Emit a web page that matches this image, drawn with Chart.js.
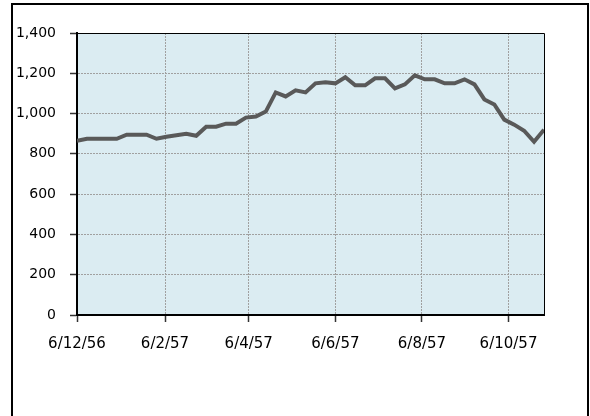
<!DOCTYPE html>
<html lang="en">
<head>
  <meta charset="UTF-8">
  <title>Weekly series</title>
  <style>
    html, body {
      margin: 0;
      padding: 0;
      background: #ffffff;
    }
    .chart-container {
      width: 590px;
      height: 416px;
      position: relative;
    }
  </style>
</head>
<body>
  <div class="chart-container">
    <canvas id="lineChart"></canvas>
  </div>

  <script src="https://cdn.jsdelivr.net/npm/chart.js"></script>
  <script>
    // weekly readings, first one on 6/12/56 (day 0)
    const weeklyValues = [
      865, 875, 875, 875, 875, 895, 895, 895, 875, 885,
      892, 900, 890, 935, 935, 950, 950, 980, 985, 1010,
      1105, 1085, 1115, 1105, 1150, 1155, 1150, 1180, 1140, 1140,
      1175, 1175, 1125, 1145, 1190, 1170, 1170, 1150, 1150, 1170,
      1145, 1070, 1045, 970, 945, 915, 860, 920
    ];
    // x axis ticks: day offsets from 6/12/56 and their labels
    const tickDays = [0, 62, 121, 182, 243, 304];
    const tickLabels = ['6/12/56', '6/2/57', '6/4/57', '6/6/57', '6/8/57', '6/10/57'];
    const lastDay = 329;

    const points = weeklyValues.map((v, i) => ({ x: i * 7, y: v }));

    const framePlugin = {
      id: 'frame',
      beforeDatasetsDraw(chart) {
        const { ctx, chartArea: a } = chart;
        ctx.save();
        ctx.fillStyle = '#dbecf2';
        ctx.globalCompositeOperation = 'destination-over';
        ctx.fillRect(a.left, a.top, a.right - a.left, a.bottom - a.top);
        ctx.restore();
      },
      afterDraw(chart) {
        const { ctx, chartArea: a } = chart;
        ctx.save();
        ctx.strokeStyle = '#000';
        ctx.lineWidth = 1;
        ctx.beginPath();
        ctx.moveTo(a.left, a.top + 0.5);
        ctx.lineTo(a.right + 0.5, a.top + 0.5);
        ctx.lineTo(a.right + 0.5, a.bottom);
        ctx.stroke();
        // outer chart frame
        ctx.lineWidth = 2;
        ctx.strokeRect(12, 4, 576, 440);
        ctx.restore();
      }
    };

    const family = '"DejaVu Sans", Verdana, sans-serif';

    new Chart(document.getElementById('lineChart'), {
      type: 'line',
      data: {
        datasets: [{
          data: points,
          borderColor: '#595959',
          borderWidth: 4,
          pointRadius: 0,
          tension: 0,
          fill: false
        }]
      },
      options: {
        responsive: true,
        maintainAspectRatio: false,
        animation: false,
        layout: { padding: { left: 0, top: 33, right: 46, bottom: 0 } },
        plugins: {
          legend: { display: false },
          tooltip: { enabled: false }
        },
        scales: {
          x: {
            type: 'linear',
            min: 0,
            max: lastDay,
            afterBuildTicks: (scale) => {
              scale.ticks = tickDays.map(v => ({ value: v }));
            },
            afterFit: (scale) => { scale.height = 101; },
            ticks: {
              autoSkip: false,
              maxRotation: 0,
              padding: 13,
              color: '#000',
              font: { family: family, size: 15 },
              callback: (value) => tickLabels[tickDays.indexOf(value)]
            },
            grid: {
              color: '#a0a0a0',
              lineWidth: 1,
              tickLength: 7,
              tickColor: '#333',
              tickWidth: 1.5
            },
            border: { color: '#000', width: 2, dash: [2, 1] }
          },
          y: {
            min: 0,
            max: 1400,
            afterFit: (scale) => { scale.width = 77; },
            ticks: {
              stepSize: 200,
              padding: 14,
              color: '#000',
              font: { family: family, size: 14 },
              callback: (value) => value.toLocaleString('en-US')
            },
            grid: {
              color: '#a0a0a0',
              lineWidth: 1,
              tickLength: 7,
              tickColor: '#333',
              tickWidth: 1.5
            },
            border: { color: '#000', width: 2, dash: [2, 1] }
          }
        }
      },
      plugins: [framePlugin]
    });
  </script>
</body>
</html>
